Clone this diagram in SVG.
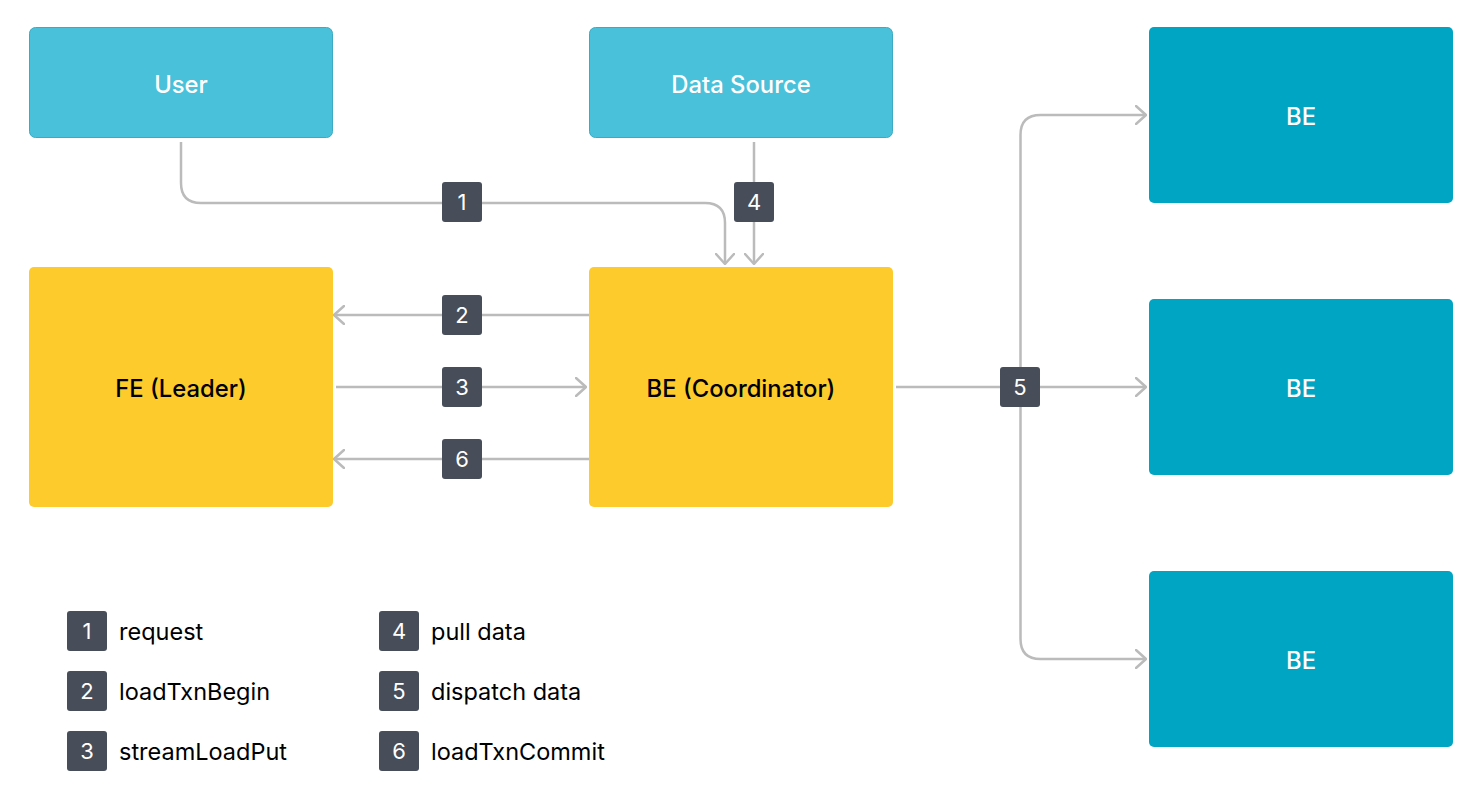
<svg xmlns="http://www.w3.org/2000/svg" width="1480" height="792" viewBox="0 0 1480 792">
<defs>
<marker id="arr" viewBox="0 0 12 20" refX="11" refY="10" markerWidth="12" markerHeight="20" markerUnits="userSpaceOnUse" orient="auto">
<path d="M1,1 L11,10 L1,19" fill="none" stroke="#BBBBBB" stroke-width="2.5" stroke-linecap="round" stroke-linejoin="round"/>
</marker>
<style>
.src{fill:#4AC1DA;stroke:#3DAAC4;stroke-width:1}
.yel{fill:#FDCB2B}
.be{fill:#00A5C4}
.t{font-family:Inter,"Noto Sans","Liberation Sans",sans-serif;font-size:23.8px;font-weight:500;text-anchor:middle;dominant-baseline:central}
.w{fill:#FFFFFF}
.k{fill:#000000}
.c{fill:none;stroke:#BBBBBB;stroke-width:2.5}
.lb{fill:#474D59}
.n{font-family:Inter,"Noto Sans","Liberation Sans",sans-serif;font-size:22px;fill:#FFFFFF;text-anchor:middle;dominant-baseline:central}
.lg{font-family:Inter,"Noto Sans","Liberation Sans",sans-serif;font-size:23.5px;fill:#000000;dominant-baseline:central}
</style>
</defs>
<rect width="1480" height="792" fill="#FFFFFF"/>
<g id="connectors">
<path class="c" d="M181,142 V183 Q181,203 201,203 H705 Q725,203 725,223 V264" marker-end="url(#arr)"/>
<path class="c" d="M754,142 V264" marker-end="url(#arr)"/>
<path class="c" d="M589,315 H334" marker-end="url(#arr)"/>
<path class="c" d="M336,387 H586" marker-end="url(#arr)"/>
<path class="c" d="M589,459 H334" marker-end="url(#arr)"/>
<path class="c" d="M896,387 H1146" marker-end="url(#arr)"/>
<path class="c" d="M1020.5,387 V135 Q1020.5,115 1040.5,115 H1146" marker-end="url(#arr)"/>
<path class="c" d="M1020.5,387 V639 Q1020.5,659 1040.5,659 H1146" marker-end="url(#arr)"/>
<g id="label1"><rect class="lb" x="442" y="182" width="40" height="40" rx="3"/><text class="n" x="462" y="202">1</text></g>
<g id="label4"><rect class="lb" x="734" y="182" width="40" height="40" rx="3"/><text class="n" x="754" y="202">4</text></g>
<g id="label2"><rect class="lb" x="442" y="295" width="40" height="40" rx="3"/><text class="n" x="462" y="315">2</text></g>
<g id="label3"><rect class="lb" x="442" y="367" width="40" height="40" rx="3"/><text class="n" x="462" y="387">3</text></g>
<g id="label6"><rect class="lb" x="442" y="439" width="40" height="40" rx="3"/><text class="n" x="462" y="459">6</text></g>
<g id="label5"><rect class="lb" x="1000" y="367" width="40" height="40" rx="3"/><text class="n" x="1020" y="387">5</text></g>
</g>
<g id="user"><rect class="src" x="29.5" y="27.5" width="303" height="110" rx="6"/><text class="t w" x="181" y="84">User</text></g>
<g id="datasource"><rect class="src" x="589.5" y="27.5" width="303" height="110" rx="6"/><text class="t w" x="741" y="84">Data Source</text></g>
<g id="fe"><rect class="yel" x="29" y="267" width="304" height="240" rx="5"/><text class="t k" x="181" y="388">FE (Leader)</text></g>
<g id="becoord"><rect class="yel" x="589" y="267" width="304" height="240" rx="5"/><text class="t k" x="741" y="388">BE (Coordinator)</text></g>
<g id="be1"><rect class="be" x="1149" y="27" width="304" height="176" rx="5"/><text class="t w" x="1301" y="116">BE</text></g>
<g id="be2"><rect class="be" x="1149" y="299" width="304" height="176" rx="5"/><text class="t w" x="1301" y="388">BE</text></g>
<g id="be3"><rect class="be" x="1149" y="571" width="304" height="176" rx="5"/><text class="t w" x="1301" y="660">BE</text></g>
<g id="legend">
<rect class="lb" x="67" y="611" width="40" height="40" rx="3"/><text class="n" x="87" y="631">1</text><text class="lg" x="119" y="631">request</text>
<rect class="lb" x="67" y="671" width="40" height="40" rx="3"/><text class="n" x="87" y="691">2</text><text class="lg" x="119" y="691">loadTxnBegin</text>
<rect class="lb" x="67" y="731" width="40" height="40" rx="3"/><text class="n" x="87" y="751">3</text><text class="lg" x="119" y="751">streamLoadPut</text>
<rect class="lb" x="379" y="611" width="40" height="40" rx="3"/><text class="n" x="399" y="631">4</text><text class="lg" x="431" y="631">pull data</text>
<rect class="lb" x="379" y="671" width="40" height="40" rx="3"/><text class="n" x="399" y="691">5</text><text class="lg" x="431" y="691">dispatch data</text>
<rect class="lb" x="379" y="731" width="40" height="40" rx="3"/><text class="n" x="399" y="751">6</text><text class="lg" x="431" y="751">loadTxnCommit</text>
</g>
</svg>
